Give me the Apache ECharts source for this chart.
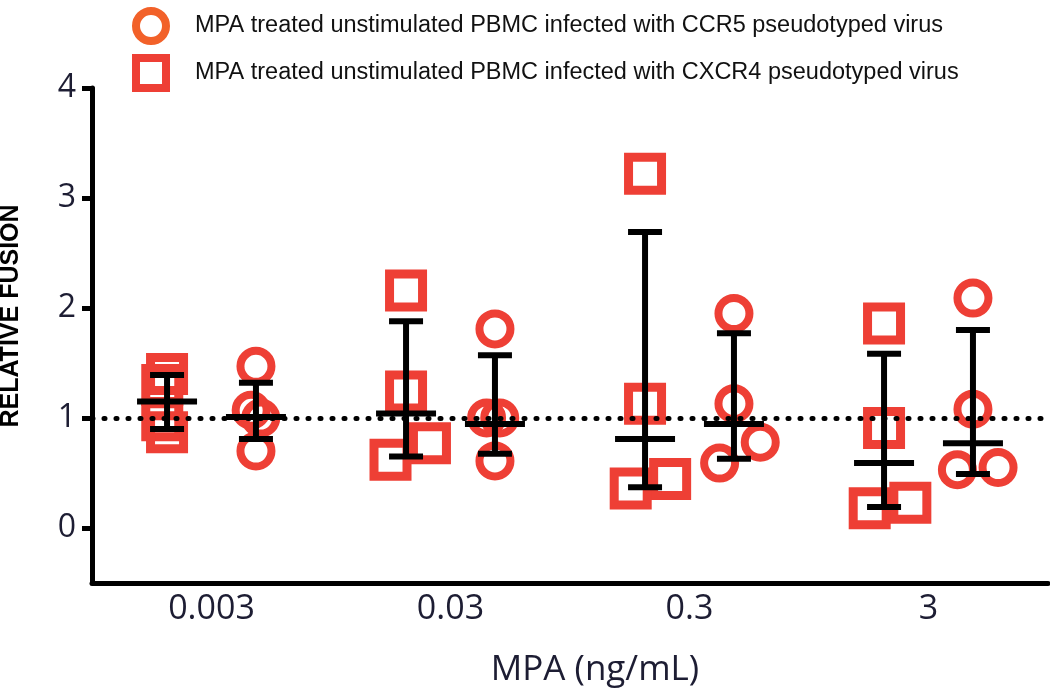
<!DOCTYPE html>
<html>
<head>
<meta charset="utf-8">
<script src="https://cdn.jsdelivr.net/npm/echarts@6/dist/echarts.min.js"></script>
<style>
html,body{margin:0;padding:0;background:#fff;}
#chart{width:1050px;height:693px;}
</style>
</head>
<body>
<div id="chart"></div>
<script>
// ---- data ----
const categories = ['0.003', '0.03', '0.3', '3'];
const yTickValues = [0, 1, 2, 3, 4];
const seriesNames = [
  'MPA treated unstimulated PBMC infected with CCR5 pseudotyped virus',
  'MPA treated unstimulated PBMC infected with CXCR4 pseudotyped virus'
];
// CXCR4 (squares): individual values per category
const cxcr4Values = [
  [1.40, 1.30, 0.98, 0.87],
  [2.16, 1.24, 0.77, 0.62],
  [3.22, 1.13, 0.445, 0.36],
  [1.86, 0.91, 0.23, 0.18]
];
// horizontal scatter of each point (fraction of a category width)
const cxcr4Jitter = [
  [0.00, -0.02, -0.02, 0.00],
  [0.00, 0.00, 0.10, -0.065],
  [0.00, 0.00, 0.105, -0.06],
  [0.00, 0.00, 0.11, -0.06]
];
const cxcr4Mean = [1.15, 1.04, 0.81, 0.59];
const cxcr4Low  = [0.90, 0.65, 0.37, 0.19];
const cxcr4High = [1.39, 1.88, 2.69, 1.585];

// CCR5 (circles)
const ccr5Values = [
  [1.47, 1.07, 1.00, 0.70],
  [1.81, 1.00, 1.00, 0.61],
  [1.95, 1.13, 0.78, 0.59],
  [2.09, 1.08, 0.55, 0.53]
];
const ccr5Jitter = [
  [0.00, -0.02, 0.02, 0.00],
  [0.00, -0.035, 0.02, 0.00],
  [0.00, 0.00, 0.11, -0.06],
  [0.00, 0.00, 0.105, -0.065]
];
const ccr5Mean = [1.01, 0.945, 0.945, 0.77];
const ccr5Low  = [0.81, 0.675, 0.63, 0.49];
const ccr5High = [1.32, 1.57, 1.77, 1.80];

const referenceLevel = 1;

// ---- build ----
const GROUP_OFFSET = 0.186;
const RED = '#EE3F35';
const ORANGE = '#F26129';
const TXT = '#1d1d33';

function scatterData(vals, jit, side) {
  const out = [];
  vals.forEach((arr, i) => {
    arr.forEach((v, k) => {
      out.push([i + 0.5 + side * GROUP_OFFSET + jit[i][k], v]);
    });
  });
  return out;
}
function errData(mean, low, high, side) {
  return mean.map((m, i) => [i + 0.5 + side * GROUP_OFFSET, m, low[i], high[i]]);
}
function renderErr(params, api) {
  const x = api.value(0);
  const pm = api.coord([x, api.value(1)]);
  const pl = api.coord([x, api.value(2)]);
  const ph = api.coord([x, api.value(3)]);
  const st = { stroke: '#000', lineWidth: 6, lineCap: 'butt' };
  const capHalf = 17, meanHalf = 30;
  return {
    type: 'group',
    children: [
      { type: 'line', shape: { x1: pm[0], y1: pl[1], x2: pm[0], y2: ph[1] }, style: st },
      { type: 'line', shape: { x1: pm[0] - capHalf, y1: ph[1], x2: pm[0] + capHalf, y2: ph[1] }, style: st },
      { type: 'line', shape: { x1: pm[0] - capHalf, y1: pl[1], x2: pm[0] + capHalf, y2: pl[1] }, style: st },
      { type: 'line', shape: { x1: pm[0] - meanHalf, y1: pm[1], x2: pm[0] + meanHalf, y2: pm[1] }, style: st }
    ]
  };
}

const chart = echarts.init(document.getElementById('chart'), null, { renderer: 'canvas' });
const option = {
  backgroundColor: '#fff',
  animation: false,
  grid: { left: 92, right: 2, top: 88, bottom: 110, containLabel: false },
  legend: {
    orient: 'vertical',
    left: 132, top: 7, padding: 0,
    itemWidth: 30, itemHeight: 30, itemGap: 9,
    textStyle: { fontFamily: "'Liberation Sans', Arial, sans-serif", fontSize: 23.5, lineHeight: 30, color: '#111', padding: [0, 0, 0, 24] },
    data: [
      { name: seriesNames[0], icon: 'circle', itemStyle: { color: 'rgba(0,0,0,0)', borderColor: ORANGE, borderWidth: 8 } },
      { name: seriesNames[1], icon: 'rect', itemStyle: { color: 'rgba(0,0,0,0)', borderColor: RED, borderWidth: 8 } }
    ]
  },
  graphic: [{
    type: 'text', x: 11, y: 316, rotation: Math.PI / 2,
    style: { text: 'RELATIVE FUSION', font: "bold 25px 'Liberation Sans', Arial, sans-serif", fill: '#000', textAlign: 'center', textVerticalAlign: 'middle' }
  }],
  xAxis: [
    {
      type: 'category', data: categories, position: 'bottom',
      axisLine: { onZero: false, lineStyle: { color: '#000', width: 5 } },
      axisTick: { alignWithLabel: true, length: 12, lineStyle: { color: '#000', width: 4 } },
      axisLabel: { fontFamily: "'Open Sans', sans-serif", fontSize: 34, color: TXT, margin: 9 },
      name: 'MPA (ng/mL)', nameLocation: 'middle', nameGap: 70,
      nameTextStyle: { fontFamily: "'Open Sans', sans-serif", fontSize: 35, color: TXT, padding: [0, 0, 0, 50] },
      splitLine: { show: false }
    },
    { type: 'value', min: 0, max: 4, show: false, splitLine: { show: false } }
  ],
  yAxis: {
    type: 'value', min: -0.5, max: 4,
    axisLine: { show: true, lineStyle: { color: '#000', width: 5 } },
    axisTick: { show: true, customValues: yTickValues, length: 10, lineStyle: { color: '#000', width: 5 } },
    axisLabel: { customValues: yTickValues, fontFamily: "'Open Sans', sans-serif", fontSize: 32, color: TXT, margin: 16 },
    splitLine: { show: false }
  },
  series: [
    {
      name: seriesNames[0], type: 'scatter', xAxisIndex: 1, z: 2,
      symbol: 'circle', symbolSize: 31,
      itemStyle: { color: 'rgba(0,0,0,0)', borderColor: RED, borderWidth: 8, opacity: 1 },
      data: scatterData(ccr5Values, ccr5Jitter, 1)
    },
    {
      name: seriesNames[1], type: 'scatter', xAxisIndex: 1, z: 2,
      symbol: 'rect', symbolSize: 33,
      itemStyle: { color: 'rgba(0,0,0,0)', borderColor: RED, borderWidth: 9, opacity: 1 },
      data: scatterData(cxcr4Values, cxcr4Jitter, -1)
    },
    {
      name: 'ref', type: 'line', xAxisIndex: 1, z: 3, data: [],
      markLine: {
        silent: true, symbol: ['none', 'none'], label: { show: false },
        lineStyle: { color: '#000', width: 5, type: [1, 11], cap: 'round' },
        data: [{ yAxis: referenceLevel }]
      }
    },
    {
      name: 'err5', type: 'custom', xAxisIndex: 1, z: 4,
      renderItem: renderErr, data: errData(ccr5Mean, ccr5Low, ccr5High, 1),
      encode: { x: 0, y: [1, 2, 3] }
    },
    {
      name: 'err4', type: 'custom', xAxisIndex: 1, z: 4,
      renderItem: renderErr, data: errData(cxcr4Mean, cxcr4Low, cxcr4High, -1),
      encode: { x: 0, y: [1, 2, 3] }
    }
  ]
};
chart.setOption(option);
</script>
</body>
</html>
